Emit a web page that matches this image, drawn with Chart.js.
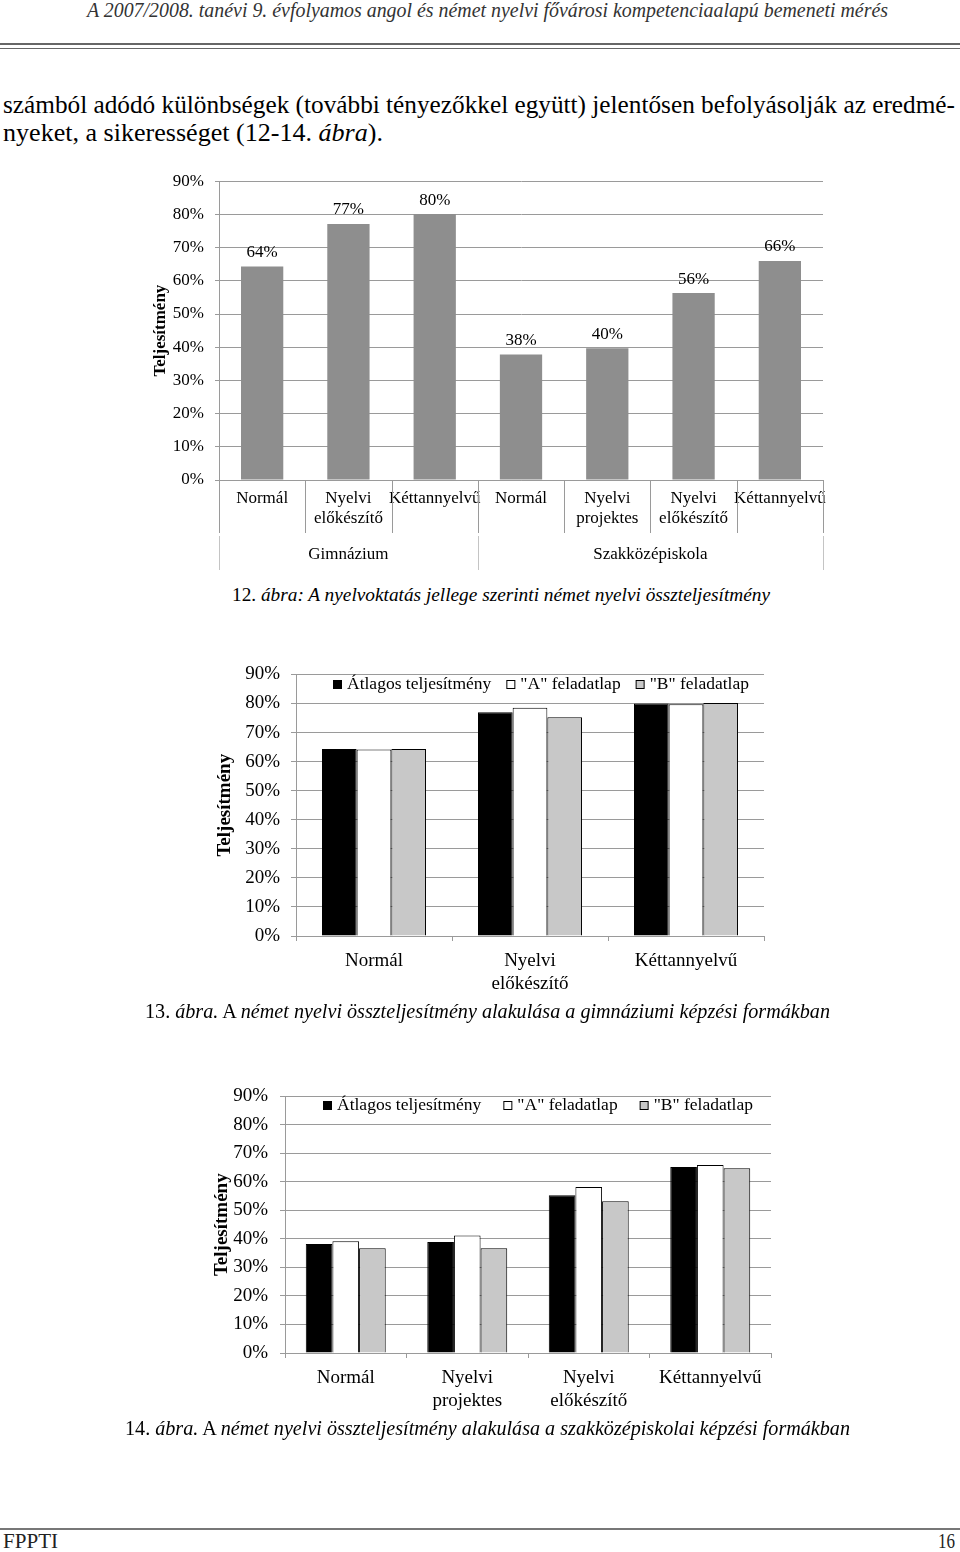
<!DOCTYPE html>
<html>
<head>
<meta charset="utf-8">
<script src="https://cdn.jsdelivr.net/npm/chart.js@4.4.0/dist/chart.umd.min.js"></script>
<style>
body { margin: 0; background: #fff; }
#page { position: relative; width: 960px; height: 1552px; overflow: hidden; font-family: "Liberation Serif", "Times New Roman", serif; color: #000; }
.t { position: absolute; white-space: nowrap; line-height: 1; transform-origin: 0 50%; }
.rule { position: absolute; left: 0; width: 960px; background: #666; }
.box { position: absolute; }
.box canvas { display: block; }
i { font-style: italic; }
</style>
</head>
<body>
<div id="page">
  <div class="t" data-x="87" data-y="12" data-w="801" data-f="20" style="font-style:italic;color:#333;">A 2007/2008. tanévi 9. évfolyamos angol és német nyelvi fővárosi kompetenciaalapú bemeneti mérés</div>
  <div class="rule" style="top:43px;height:2px;"></div>
  <div class="rule" style="top:48px;height:1px;"></div>

  <div class="t" data-x="3" data-y="107" data-w="952" data-f="22" data-auto="1">számból adódó különbségek (további tényezőkkel együtt) jelentősen befolyásolják az eredmé-</div>
  <div class="t" data-x="3" data-y="135" data-w="380" data-f="22" data-auto="1">nyeket, a sikerességet (12-14. <i>ábra</i>).</div>

  <div class="box" style="left:140px;top:160px;"><canvas id="chart1" width="700" height="420"></canvas></div>
  <div class="t" data-x="232" data-y="596" data-w="538" data-f="19" data-auto="1">12. <i>ábra: A nyelvoktatás jellege szerinti német nyelvi összteljesítmény</i></div>

  <div class="box" style="left:200px;top:652px;"><canvas id="chart2" width="580" height="350"></canvas></div>
  <div class="t" data-x="145" data-y="1013" data-w="685" data-f="19" data-auto="1">13. <i>ábra.</i> A <i>német nyelvi összteljesítmény alakulása a gimnáziumi képzési formákban</i></div>

  <div class="box" style="left:190px;top:1073px;"><canvas id="chart3" width="600" height="347"></canvas></div>
  <div class="t" data-x="125" data-y="1430" data-w="725" data-f="19" data-auto="1">14. <i>ábra.</i> A <i>német nyelvi összteljesítmény alakulása a szakközépiskolai képzési formákban</i></div>

  <div class="rule" style="top:1528px;height:2px;background:#777;"></div>
  <div class="t" data-x="3" data-y="1543" data-w="55" data-f="20" style="color:#222;">FPPTI</div>
  <div class="t" data-x="938" data-y="1543" data-w="17" data-f="20" style="color:#222;">16</div>
</div>

<script>
// tick labels shared by all three charts
const percentTicks = [0, 10, 20, 30, 40, 50, 60, 70, 80, 90];

// 12. ábra
const categories1 = ['Normál', 'Nyelvi előkészítő', 'Kéttannyelvű', 'Normál', 'Nyelvi projektes', 'Nyelvi előkészítő', 'Kéttannyelvű'];
const groups1 = ['Gimnázium', 'Szakközépiskola'];
const groupSizes1 = [3, 4];
const overall1 = [64.3, 77.1, 80.1, 37.8, 39.7, 56.3, 66.0];

// 13. ábra
const seriesNames = ['Átlagos teljesítmény', '"A" feladatlap', '"B" feladatlap'];
const categories2 = ['Normál', 'Nyelvi előkészítő', 'Kéttannyelvű'];
const avg2 = [64.3, 77.0, 80.0];
const sheetA2 = [64.2, 78.5, 79.7];
const sheetB2 = [64.3, 75.3, 80.2];

// 14. ábra
const categories3 = ['Normál', 'Nyelvi projektes', 'Nyelvi előkészítő', 'Kéttannyelvű'];
const avg3 = [38.2, 38.9, 55.3, 65.2];
const sheetA3 = [39.2, 41.2, 58.2, 65.9];
const sheetB3 = [36.7, 36.7, 53.2, 64.8];

const seriesColors = ['#000000', '#ffffff', '#c8c8c8'];
const gridColor = '#9a9a9a';
const serif = '"Liberation Serif", "Times New Roman", serif';

Chart.defaults.font.family = serif;
Chart.defaults.color = '#000';

// place each text line and fit it to the width it has on the page
document.querySelectorAll('.t').forEach(el => {
    const target = +el.dataset.w;
    let f = +el.dataset.f;
    el.style.fontSize = f + 'px';
    let w = el.getBoundingClientRect().width;
    if (el.dataset.auto) {
        f = f * target / w;
        el.style.fontSize = f + 'px';
        w = el.getBoundingClientRect().width;
    }
    el.style.left = el.dataset.x + 'px';
    el.style.top = (el.dataset.y - 0.58 * f) + 'px';
    el.style.transform = 'scaleX(' + (target / w) + ')';
});

function yAxis(o) {
    return {
        min: 0,
        max: 90,
        afterBuildTicks: s => { s.ticks = percentTicks.map(v => ({ value: v })); },
        afterFit: s => { s.width = o.width; },
        grid: { color: gridColor, tickLength: o.tick, drawTicks: true },
        border: { color: gridColor },
        ticks: { padding: o.pad, font: { size: o.font }, callback: v => v + '%' },
        title: {
            display: true,
            text: 'Teljesítmény',
            font: { size: o.titleSize, weight: 'bold' },
            padding: { top: o.titlePad, bottom: 0 }
        }
    };
}

function splitLabel(v) {
    return this.getLabelForValue(v).split(' ');
}

// value labels above the bars (chart 1)
const valueLabels = {
    id: 'valueLabels',
    afterDatasetsDraw(chart) {
        const ctx = chart.ctx;
        const ds = chart.data.datasets[0];
        ctx.save();
        ctx.font = '17px ' + serif;
        ctx.textAlign = 'center';
        ctx.textBaseline = 'middle';
        ctx.fillStyle = '#000';
        chart.getDatasetMeta(0).data.forEach((bar, i) => {
            ctx.fillText(Math.round(ds.data[i]) + '%', bar.x, bar.y - 14);
        });
        ctx.restore();
    }
};

// two level category axis (chart 1)
const groupAxis = {
    id: 'groupAxis',
    afterDraw(chart) {
        const x = chart.scales.x;
        const ctx = chart.ctx;
        const b = chart.chartArea.bottom;
        const n = chart.data.labels.length;
        const w = (x.right - x.left) / n;
        ctx.save();
        ctx.lineWidth = 1;
        ctx.strokeStyle = gridColor;
        for (let i = 0; i <= n; i++) {
            const px = Math.round(x.left + i * w) + 0.5;
            ctx.beginPath();
            ctx.moveTo(px, b);
            ctx.lineTo(px, b + 53);
            ctx.stroke();
        }
        const edges = [0];
        groupSizes1.forEach(s => edges.push(edges[edges.length - 1] + s));
        ctx.strokeStyle = '#c4c4c4';
        edges.forEach(e => {
            const px = Math.round(x.left + e * w) + 0.5;
            ctx.beginPath();
            ctx.moveTo(px, b + 56);
            ctx.lineTo(px, b + 90);
            ctx.stroke();
        });
        ctx.font = '17px ' + serif;
        ctx.textAlign = 'center';
        ctx.textBaseline = 'middle';
        ctx.fillStyle = '#000';
        groups1.forEach((g, k) => {
            ctx.fillText(g, x.left + (edges[k] + edges[k + 1]) / 2 * w, b + 75);
        });
        ctx.restore();
    }
};

// legend drawn inside the plot, Excel style
function boxLegend(x0, yc, gap) {
    return {
        id: 'boxLegend',
        afterDraw(chart) {
            const ctx = chart.ctx;
            ctx.save();
            ctx.font = '17.5px ' + serif;
            ctx.textBaseline = 'middle';
            ctx.lineWidth = 1;
            let x = x0;
            chart.data.datasets.forEach(ds => {
                ctx.fillStyle = ds.backgroundColor;
                ctx.fillRect(x + 0.5, yc - 3.5, 8, 8);
                ctx.strokeStyle = '#000';
                ctx.strokeRect(x + 0.5, yc - 3.5, 8, 8);
                ctx.fillStyle = '#000';
                ctx.fillText(ds.label, x + 14, yc);
                x += 14 + ctx.measureText(ds.label).width + gap;
            });
            ctx.restore();
        }
    };
}

new Chart(document.getElementById('chart1'), {
    type: 'bar',
    data: {
        labels: categories1,
        datasets: [{
            data: overall1,
            backgroundColor: '#8e8e8e',
            categoryPercentage: 1,
            barPercentage: 0.49
        }]
    },
    options: {
        responsive: false,
        animation: false,
        layout: { padding: { left: 0, right: 17, top: 0, bottom: 0 } },
        plugins: { legend: { display: false }, tooltip: { enabled: false } },
        scales: {
            x: {
                afterFit: s => { s.height = 100; },
                grid: { display: false, drawTicks: false },
                border: { color: gridColor },
                ticks: { padding: 8, font: { size: 17 }, maxRotation: 0, autoSkip: false, callback: splitLabel }
            },
            y: yAxis({ width: 79, tick: 4, pad: 11, font: 17, titleSize: 17, titlePad: 10 })
        }
    },
    plugins: [valueLabels, groupAxis]
});

function groupedChart(id, labels, series, o) {
    return new Chart(document.getElementById(id), {
        type: 'bar',
        data: {
            labels: labels,
            datasets: series.map((data, k) => ({
                label: seriesNames[k],
                data: data,
                backgroundColor: seriesColors[k],
                borderColor: '#000',
                borderWidth: 1,
                categoryPercentage: o.cat,
                barPercentage: 1
            }))
        },
        options: {
            responsive: false,
            animation: false,
            layout: { padding: { left: 0, right: o.right, top: 0, bottom: 0 } },
            plugins: { legend: { display: false }, tooltip: { enabled: false } },
            scales: {
                x: {
                    afterFit: s => { s.height = o.xh; },
                    grid: { display: true, drawOnChartArea: false, tickLength: 5, color: gridColor, offset: true },
                    border: { color: gridColor },
                    ticks: { padding: 9, font: { size: 19 }, maxRotation: 0, autoSkip: false, callback: splitLabel }
                },
                y: yAxis({ width: o.yw, tick: 5, pad: o.pad, font: 19, titleSize: 19, titlePad: o.titlePad })
            }
        },
        plugins: [boxLegend(o.lx, o.ly, o.gap)]
    });
}

groupedChart('chart2', categories2, [avg2, sheetA2, sheetB2],
    { cat: 0.667, right: 16, xh: 66, yw: 96, pad: 11, titlePad: 14, lx: 133, ly: 32, gap: 15 });

groupedChart('chart3', categories3, [avg3, sheetA3, sheetB3],
    { cat: 0.658, right: 19, xh: 67, yw: 95, pad: 12, titlePad: 21, lx: 133, ly: 32, gap: 22 });
</script>
</body>
</html>
